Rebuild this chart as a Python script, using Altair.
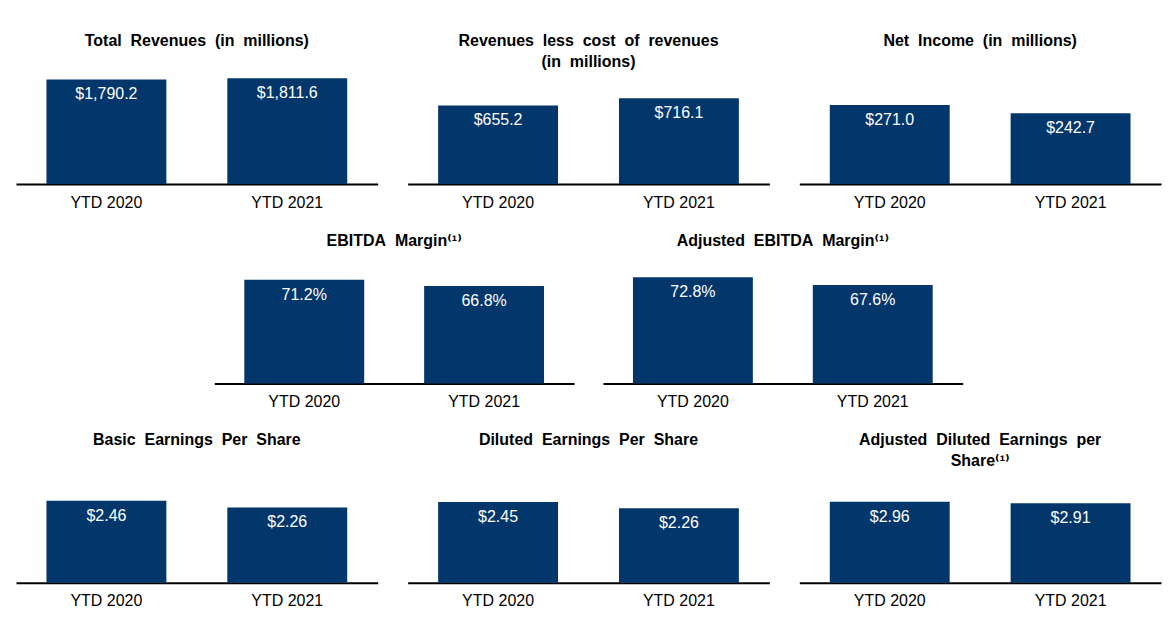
import altair as alt
import pandas as pd

# ---- data ----
periods = ["YTD 2020", "YTD 2021"]

titles = [
    ["Total Revenues (in millions)"],
    ["Revenues less cost of revenues", "(in millions)"],
    ["Net Income (in millions)"],
    ["EBITDA Margin\u207d\u00b9\u207e"],
    ["Adjusted EBITDA Margin\u207d\u00b9\u207e"],
    ["Basic Earnings Per Share"],
    ["Diluted Earnings Per Share"],
    ["Adjusted Diluted Earnings per", "Share\u207d\u00b9\u207e"],
]

values = [
    [1790.2, 1811.6],
    [655.2, 716.1],
    [271.0, 242.7],
    [71.2, 66.8],
    [72.8, 67.6],
    [2.46, 2.26],
    [2.45, 2.26],
    [2.96, 2.91],
]

labels = [
    ["$1,790.2", "$1,811.6"],
    ["$655.2", "$716.1"],
    ["$271.0", "$242.7"],
    ["71.2%", "66.8%"],
    ["72.8%", "67.6%"],
    ["$2.46", "$2.26"],
    ["$2.45", "$2.26"],
    ["$2.96", "$2.91"],
]

# per-panel y-axis maxima (scale settings, each panel has its own scale)
y_max = [1880, 916, 377, 75.4, 75.4, 3.30, 3.33, 4.02]

NAVY = "#03366A"
FONT = "Liberation Sans"
TITLE_FONT = "Liberation Sans, DejaVu Sans, sans-serif"
PANEL_H = 110


def spaced(line):
    # the reference uses wide (double) spaces between words
    return "\u00a0\u00a0".join(line.split(" "))


def panel(i, width=362):
    df = pd.DataFrame({"period": periods, "value": values[i], "label": labels[i]})
    lines = [spaced(t) for t in titles[i]]
    while len(lines) < 2:
        lines.append("\u00a0")
    base = alt.Chart(df).encode(
        x=alt.X(
            "period:N",
            sort=periods,
            scale=alt.Scale(paddingInner=0, paddingOuter=0),
            axis=alt.Axis(
                title=None,
                labelAngle=0,
                ticks=False,
                domainColor="black",
                domainWidth=2,
                labelFontSize=16,
                labelFont=FONT,
                labelColor="black",
                labelPadding=10,
            ),
        ),
        y=alt.Y("value:Q", scale=alt.Scale(domain=[0, y_max[i]]), axis=None),
    )
    bars = base.mark_bar(size=120, color=NAVY)
    text = base.mark_text(
        color="white", fontSize=16, font=FONT, baseline="middle", dy=15
    ).encode(text="label:N")
    return alt.layer(bars, text).properties(
        width=width,
        height=PANEL_H,
        view=alt.ViewBackground(stroke="transparent", strokeWidth=0),
        title=alt.TitleParams(
            text=lines,
            fontSize=16,
            font=TITLE_FONT,
            fontWeight="bold",
            color="black",
            lineHeight=21,
            anchor="middle",
            offset=4,
        ),
    )


row1 = alt.hconcat(panel(0), panel(1), panel(2), spacing=30)
row2 = alt.hconcat(panel(3, 360), panel(4, 360), spacing=29)
row3 = alt.hconcat(panel(5), panel(6), panel(7), spacing=30)

chart = (
    alt.vconcat(row1, row2, row3, spacing=22.5, center=True)
    .properties(padding={"top": 25, "left": 8, "right": 5, "bottom": 5})
    .configure_view(strokeWidth=0, stroke="transparent")
    .configure(background="white")
)

chart.save("out.html", embed_options={"renderer": "svg", "actions": False})
